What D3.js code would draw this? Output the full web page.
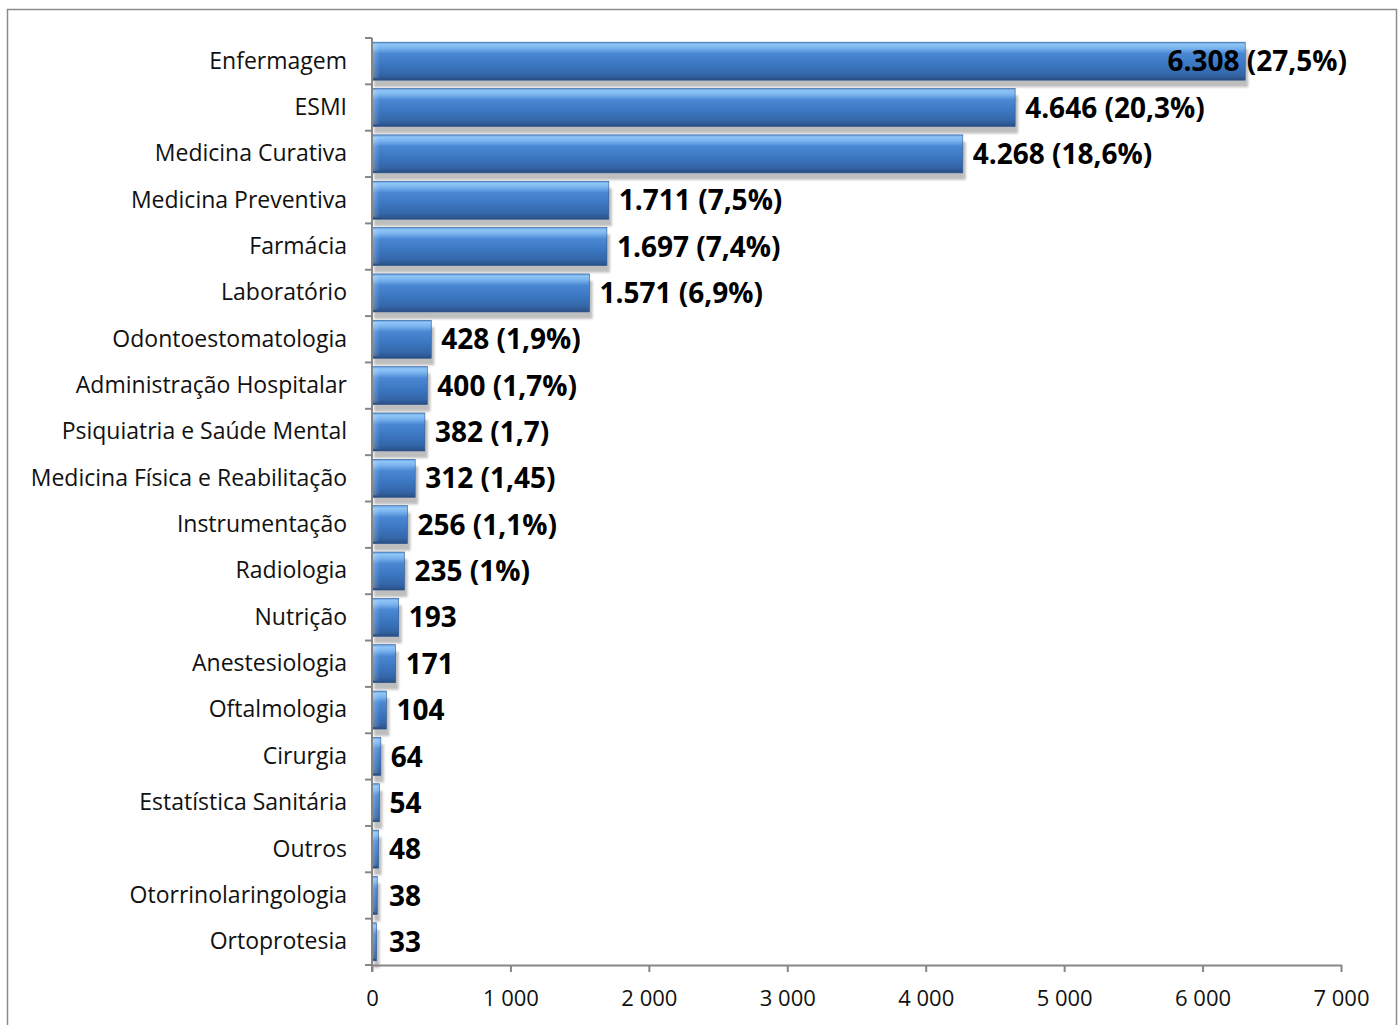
<!DOCTYPE html>
<html>
<head>
<meta charset="utf-8">
<script src="https://cdn.jsdelivr.net/npm/d3@7"></script>
<style>
  html, body { margin: 0; padding: 0; background: #fff; }
  svg { display: block; }
</style>
</head>
<body>
<svg id="chart" width="1400" height="1025"></svg>
<script>
// Especialidades (ordem do gráfico, de cima para baixo)
const categories = [
  "Enfermagem", "ESMI", "Medicina Curativa", "Medicina Preventiva", "Farmácia",
  "Laboratório", "Odontoestomatologia", "Administração Hospitalar",
  "Psiquiatria e Saúde Mental", "Medicina Física e Reabilitação", "Instrumentação",
  "Radiologia", "Nutrição", "Anestesiologia", "Oftalmologia", "Cirurgia",
  "Estatística Sanitária", "Outros", "Otorrinolaringologia", "Ortoprotesia"
];
const values = [6308, 4646, 4268, 1711, 1697, 1571, 428, 400, 382, 312, 256, 235, 193, 171, 104, 64, 54, 48, 38, 33];
const valueLabels = [
  "6.308 (27,5%)", "4.646 (20,3%)", "4.268 (18,6%)", "1.711 (7,5%)", "1.697 (7,4%)",
  "1.571 (6,9%)", "428 (1,9%)", "400 (1,7%)", "382 (1,7)", "312 (1,45)", "256 (1,1%)",
  "235 (1%)", "193", "171", "104", "64", "54", "48", "38", "33"
];
const xTicks = [0, 1000, 2000, 3000, 4000, 5000, 6000, 7000];

const svg = d3.select("#chart");
const font = "'Open Sans', 'Noto Sans', sans-serif";

// outer chart frame
svg.append("rect")
  .attr("x", 7.5).attr("y", 9.5).attr("width", 1389).attr("height", 1030)
  .attr("fill", "#fff").attr("stroke", "#8c8c8c").attr("stroke-width", 1.5);

const plot = { left: 372, right: 1341, top: 38, bottom: 965 };

const x = d3.scaleLinear().domain([0, 7000]).range([plot.left, plot.right]);
const y = d3.scaleBand().domain(categories).range([plot.top, plot.bottom]).paddingInner(0.18).paddingOuter(0.09);

const defs = svg.append("defs");
const grad = defs.append("linearGradient").attr("id", "barFill")
  .attr("x1", 0).attr("y1", 0).attr("x2", 0).attr("y2", 1);
[
  [0, "#5f9be0"], [0.06, "#8fc5f6"], [0.16, "#7ab3ee"], [0.3, "#4a88d4"],
  [0.6, "#3b76c0"], [0.85, "#3466a8"], [0.95, "#2d5791"], [1, "#27497a"]
].forEach(([o, c]) => grad.append("stop").attr("offset", o).attr("stop-color", c));

const bevel = defs.append("linearGradient").attr("id", "barBevel")
  .attr("x1", 0).attr("y1", 0).attr("x2", 1).attr("y2", 0);
bevel.append("stop").attr("offset", 0).attr("stop-color", "#ffffff").attr("stop-opacity", 0.28);
bevel.append("stop").attr("offset", 1).attr("stop-color", "#ffffff").attr("stop-opacity", 0);

const blur = defs.append("filter").attr("id", "shadowBlur")
  .attr("x", "-10%").attr("y", "-30%").attr("width", "130%").attr("height", "160%");
blur.append("feGaussianBlur").attr("stdDeviation", 1.2);

// bar shadows
svg.append("g").selectAll("rect").data(values).join("rect")
  .attr("x", x(0) + 2)
  .attr("y", (d, i) => y(categories[i]) + 7)
  .attr("width", d => x(d) - x(0) + 1)
  .attr("height", y.bandwidth())
  .attr("fill", "#b8b8b8")
  .attr("opacity", 0.9)
  .attr("filter", "url(#shadowBlur)");

// bars
const bars = svg.append("g");
bars.selectAll("rect.bar").data(values).join("rect")
  .attr("class", "bar")
  .attr("x", x(0))
  .attr("y", (d, i) => y(categories[i]))
  .attr("width", d => x(d) - x(0))
  .attr("height", y.bandwidth())
  .attr("fill", "url(#barFill)")
  .attr("stroke", "#2f5a92")
  .attr("stroke-width", 0.6);
bars.selectAll("rect.bevel").data(values).join("rect")
  .attr("class", "bevel")
  .attr("x", x(0))
  .attr("y", (d, i) => y(categories[i]) + 2)
  .attr("width", d => Math.min(8, x(d) - x(0)))
  .attr("height", y.bandwidth() - 4)
  .attr("fill", "url(#barBevel)");

// axes
const axisColor = "#868686";
const xAxis = svg.append("g")
  .attr("transform", `translate(0,${plot.bottom})`)
  .call(d3.axisBottom(x).tickValues(xTicks).tickSize(7).tickSizeOuter(0)
    .tickFormat(d => d3.format(",")(d).replace(/,/g, " ")));
xAxis.select(".domain").attr("stroke", axisColor).attr("stroke-width", 2)
  .attr("d", `M${plot.left - 1},0.5H${plot.right + 1}`);
xAxis.selectAll(".tick line").attr("stroke", axisColor).attr("stroke-width", 2);
xAxis.selectAll(".tick text")
  .attr("y", 25).attr("dy", "0.71em")
  .attr("font-family", font).attr("font-size", 22).attr("fill", "#111");

const yAxis = svg.append("g")
  .attr("transform", `translate(${plot.left},0)`)
  .call(d3.axisLeft(y).tickSize(0).tickPadding(25));
yAxis.select(".domain").attr("stroke", axisColor).attr("stroke-width", 2)
  .attr("d", `M0,${plot.top}V${plot.bottom + 7}`);
yAxis.selectAll(".tick text")
  .attr("font-family", font).attr("font-size", 23).attr("fill", "#111");

// category separators on the value axis
const sepPositions = d3.range(categories.length + 1).map(i => plot.top + i * (plot.bottom - plot.top) / categories.length);
svg.append("g").selectAll("line").data(sepPositions).join("line")
  .attr("x1", plot.left - 7).attr("x2", plot.left)
  .attr("y1", d => d).attr("y2", d => d)
  .attr("stroke", axisColor).attr("stroke-width", 2);

// value labels: just past the bar end, kept inside the frame
const labelRight = 1347;
const minLabelX = plot.left + 17;
svg.append("g").selectAll("text").data(values).join("text")
  .attr("font-family", font).attr("font-size", 28).attr("font-weight", 700)
  .attr("fill", "#000")
  .attr("y", (d, i) => y(categories[i]) + y.bandwidth() / 2)
  .attr("dy", "0.36em")
  .text((d, i) => valueLabels[i])
  .each(function (d) {
    const w = this.getComputedTextLength();
    let lx = Math.max(x(d) + 10, minLabelX);
    if (lx + w > labelRight) lx = labelRight - w;
    d3.select(this).attr("x", lx);
  });
</script>
</body>
</html>
